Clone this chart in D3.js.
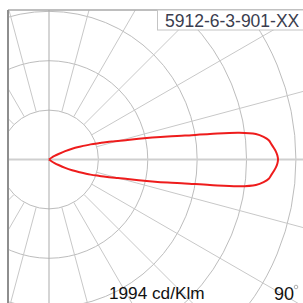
<!DOCTYPE html>
<html>
<head>
<meta charset="utf-8">
<script src="https://cdn.jsdelivr.net/npm/d3@7"></script>
<style>
  html, body { margin: 0; padding: 0; background: #fff; }
  svg { display: block; font-family: "Liberation Sans", Arial, sans-serif; }
</style>
</head>
<body>
<svg id="chart" width="303" height="303"></svg>
<script>
// luminous intensity (cd/klm) against angle from the beam axis, one half of a symmetric curve
const angles = [0, 1, 2, 3, 4, 5, 6, 7, 8, 9, 10, 11, 12, 13, 14, 15, 16, 17, 18, 20, 22.5, 25, 27.5, 30, 32.5, 35, 40, 45, 60, 75, 90];
const intensity = [1994, 1989, 1977, 1959, 1940, 1921, 1879, 1815, 1672, 1419, 1202, 1053, 918, 801, 705, 622, 569, 514, 463, 385, 290, 222, 159, 96, 57, 30, 4, 0, 0, 0, 0];
const ringValues = [430, 860, 1290, 1720, 2150, 2580];
const spokeAngles = d3.range(0, 360, 15);
const title = "5912-6-3-901-XX";
const scaleLabel = "1994 cd/Klm";
const angleLabel = "90";

const svg = d3.select('#chart');
const W = 303, H = 303;
const frameLeft = 8, frameTop = 10;
const cx = 49, cy = 159.5;

// radius scale, peak value sits at 229px from the centre
let r = d3.scaleLinear()
    .domain([0, 1994])
    .range([0, 229]);

svg.append('defs').append('clipPath')
    .attr('id', 'plotClip')
  .append('rect')
    .attr('x', frameLeft).attr('y', frameTop)
    .attr('width', W - frameLeft).attr('height', H - frameTop);

let plot = svg.append('g').attr('clip-path', 'url(#plotClip)');
let grid = plot.append('g').attr('transform', `translate(${cx},${cy})`);

// rings
grid.selectAll('circle')
    .data(ringValues)
    .join('circle')
    .attr('r', d => r(d))
    .attr('fill', 'none')
    .attr('stroke', '#bdbdbd')
    .attr('stroke-width', 1);

// spokes start at the first ring, the two main axes cross the centre
let r0 = r(ringValues[0]);
let rMax = 400;
grid.selectAll('line.spoke')
    .data(spokeAngles.filter(a => a % 90 != 0))
    .join('line')
    .attr('class', 'spoke')
    .attr('x1', a => r0 * Math.cos(a * Math.PI / 180))
    .attr('y1', a => -r0 * Math.sin(a * Math.PI / 180))
    .attr('x2', a => rMax * Math.cos(a * Math.PI / 180))
    .attr('y2', a => -rMax * Math.sin(a * Math.PI / 180))
    .attr('stroke', '#c8c8c8')
    .attr('stroke-width', 1);

// horizontal axis (beam direction) - lighter and thicker
grid.append('line')
    .attr('x1', -rMax).attr('x2', rMax)
    .attr('y1', 0).attr('y2', 0)
    .attr('stroke', '#cfcfcf')
    .attr('stroke-width', 2);

// vertical axis
grid.append('line')
    .attr('x1', 0).attr('x2', 0)
    .attr('y1', -rMax).attr('y2', rMax)
    .attr('stroke', '#ababab')
    .attr('stroke-width', 1);

// intensity curve, mirrored about the beam axis
let pts = angles.map((a, i) => ({angle: a, value: intensity[i]}));
let full = pts.slice().reverse().map(d => ({angle: -d.angle, value: d.value}))
    .concat(pts.slice(1));

let curve = d3.lineRadial()
    .angle(d => (90 - d.angle) * Math.PI / 180)
    .radius(d => r(d.value))
    .curve(d3.curveCatmullRom.alpha(0.5));

grid.append('path')
    .attr('d', curve(full))
    .attr('fill', 'none')
    .attr('stroke', '#ee1c1c')
    .attr('stroke-width', 2);

// frame
svg.append('line')
    .attr('x1', frameLeft).attr('x2', W)
    .attr('y1', frameTop).attr('y2', frameTop)
    .attr('stroke', '#a8a8a8').attr('stroke-width', 1.5);
svg.append('line')
    .attr('x1', frameLeft).attr('x2', frameLeft)
    .attr('y1', frameTop).attr('y2', H)
    .attr('stroke', '#8e8e8e').attr('stroke-width', 2);

// title box
svg.append('rect')
    .attr('x', 157.5).attr('y', frameTop)
    .attr('width', 160).attr('height', 20)
    .attr('fill', '#fff')
    .attr('stroke', '#c4c4c4').attr('stroke-width', 1);
svg.append('text')
    .attr('x', 165).attr('y', 26.5)
    .attr('font-size', 17.5)
    .attr('fill', '#3a3d4e')
    .text(title);

// scale label
svg.append('text')
    .attr('x', 109).attr('y', 299)
    .attr('font-size', 17.2)
    .attr('fill', '#111')
    .text(scaleLabel);

// angle label
svg.append('text')
    .attr('x', 274).attr('y', 300)
    .attr('font-size', 18)
    .attr('fill', '#111')
    .text(angleLabel);
svg.append('circle')
    .attr('cx', 296).attr('cy', 287)
    .attr('r', 1.8)
    .attr('fill', 'none')
    .attr('stroke', '#999').attr('stroke-width', 0.8);
</script>
</body>
</html>
